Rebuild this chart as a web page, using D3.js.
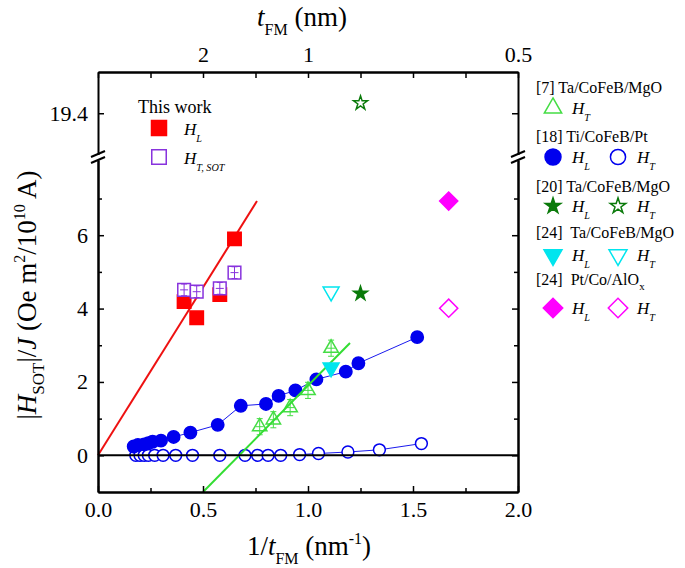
<!DOCTYPE html>
<html>
<script src="https://d3js.org/d3.v7.min.js"></script>

<head>
    <style>
        body {
            margin: 0;
            background-color: #ffffff;
        }

        svg {
            display: block;
        }

        svg text {
            font-family: "Liberation Serif", "DejaVu Serif", "Times New Roman", serif;
        }
    </style>
</head>

<body>
</body>
<script>
    const width = 685,
        height = 568;
    const FONT = "'Liberation Serif', 'DejaVu Serif', 'Times New Roman', serif";

    // axis ticks
    const xMajor = [0, 0.5, 1.0, 1.5, 2.0];
    const xMinor = [0.25, 0.75, 1.25, 1.75];
    const topValues = [0.5, 1.0, 2.0];
    const topLabels = ["2", "1", "0.5"];
    const topMinor = [0, 0.25, 0.75, 1.25, 1.5, 1.75];
    const yMajor = [0, 2, 4, 6];
    const yMinor = [1, 3, 5, 7];
    const yUpper = [19.4];

    // this work
    const workX = [0.41, 0.47, 0.58, 0.65];
    const workHL = [4.19, 3.75, 4.38, 5.9];
    const workHT = [4.51, 4.46, 4.55, 4.98];
    const workFitX = [0, 0.757];
    const workFitY = [0, 6.93];

    // [7] Ta/CoFeB/MgO
    const ta7X = [0.77, 0.835, 0.915, 1.0, 1.11];
    const ta7HT = [0.78, 0.97, 1.3, 1.77, 2.92];
    const ta7FitX = [0.5, 1.2];
    const ta7FitY = [-1.0, 3.06];

    // [18] Ti/CoFeB/Pt
    const tiHLX = [0.17, 0.19, 0.22, 0.24, 0.26, 0.30, 0.36, 0.44, 0.57, 0.68, 0.80, 0.86, 0.94, 1.04, 1.18, 1.24, 1.52];
    const tiHL = [0.24, 0.28, 0.30, 0.33, 0.37, 0.40, 0.50, 0.62, 0.83, 1.35, 1.40, 1.62, 1.77, 2.07, 2.28, 2.51, 3.22];
    const tiHTX = [0.18, 0.20, 0.22, 0.24, 0.27, 0.31, 0.37, 0.45, 0.58, 0.70, 0.76, 0.81, 0.87, 0.96, 1.05, 1.19, 1.34, 1.54];
    const tiHT = [0, 0, 0, 0, 0, 0, 0, 0, 0, 0, 0, 0, 0, 0.02, 0.05, 0.09, 0.15, 0.32];

    // [20] Ta/CoFeB/MgO
    const ta20X = [1.25];
    const ta20HL = [4.41];
    const ta20HT = [19.67];

    // [24] Ta/CoFeB/MgO
    const ta24X = [1.11];
    const ta24HL = [2.39];
    const ta24HT = [4.46];

    // [24] Pt/Co/AlOx
    const ptX = [1.67];
    const ptHL = [6.93];
    const ptHT = [4.01];

    const svg = d3.select("body").append("svg").attr("width", width).attr("height", height)
        .attr("font-family", FONT);

    const x = d3.scaleLinear().domain([0, 2]).range([98, 518]);
    const yLow = d3.scaleLinear().domain([-1, 8.05]).range([492, 160]);
    const yHigh = d3.scaleLinear().domain([18.3, 20.5]).range([154.5, 72]);
    // pick the segment of the broken axis
    const y = v => v > 10 ? yHigh(v) : yLow(v);

    function styleAxis(g) {
        g.attr("font-family", FONT).attr("font-size", 22);
        g.selectAll(".domain").attr("stroke-width", 2);
        g.selectAll(".tick line").attr("stroke-width", 1.5);
        g.selectAll(".tick text").attr("fill", "#000").attr("font-family", FONT);
    }

    function drawAxes() {
        // zero line
        svg.append("line")
            .attr("x1", x(0)).attr("x2", x(2))
            .attr("y1", yLow(0)).attr("y2", yLow(0))
            .attr("stroke", "#000").attr("stroke-width", 2);

        svg.append("g").attr("transform", "translate(0,492)")
            .call(d3.axisBottom(x).tickValues(xMajor).tickSize(-6).tickSizeOuter(0).tickPadding(9).tickFormat(d3.format(".1f")))
            .call(styleAxis);
        svg.append("g").attr("transform", "translate(0,492)")
            .call(d3.axisBottom(x).tickValues(xMinor).tickSize(-4).tickSizeOuter(0).tickFormat(""))
            .call(styleAxis);

        svg.append("g").attr("transform", "translate(0,72)")
            .call(d3.axisTop(x).tickValues(topValues).tickSize(-6).tickSizeOuter(0).tickPadding(10).tickFormat((d, i) => topLabels[i]))
            .call(styleAxis);
        svg.append("g").attr("transform", "translate(0,72)")
            .call(d3.axisTop(x).tickValues(topMinor).tickSize(-6).tickSizeOuter(0).tickFormat(""))
            .call(styleAxis);

        [[d3.axisLeft, 98, true], [d3.axisRight, 518, false]].forEach(([axis, px, labels]) => {
            svg.append("g").attr("transform", `translate(${px},0)`)
                .call(axis(yLow).tickValues(yMajor).tickSize(-6).tickSizeOuter(0).tickPadding(10).tickFormat(labels ? d3.format("d") : ""))
                .call(styleAxis);
            svg.append("g").attr("transform", `translate(${px},0)`)
                .call(axis(yLow).tickValues(yMinor).tickSize(-4).tickSizeOuter(0).tickFormat(""))
                .call(styleAxis);
            svg.append("g").attr("transform", `translate(${px},0)`)
                .call(axis(yHigh).tickValues(yUpper).tickSize(-6).tickSizeOuter(0).tickPadding(10).tickFormat(labels ? d3.format(".1f") : ""))
                .call(styleAxis);
            // break marks
            [154, 160].forEach(b => {
                svg.append("line")
                    .attr("x1", px - 7).attr("y1", b + 3)
                    .attr("x2", px + 7).attr("y2", b - 3)
                    .attr("stroke", "#000").attr("stroke-width", 2);
            });
        });
    }

    function drawPoints(xs, ys, type, size, fill, stroke, rotate) {
        svg.append("g").selectAll("path")
            .data(xs.map((v, i) => [x(v), y(ys[i])]))
            .join("path")
            .attr("d", d3.symbol().type(type).size(size))
            .attr("transform", d => `translate(${d[0]},${d[1]}) rotate(${rotate || 0})`)
            .attr("fill", fill)
            .attr("stroke", stroke)
            .attr("stroke-width", 1.5);
    }

    function drawLine(xs, ys, color, w) {
        svg.append("path")
            .datum(xs.map((v, i) => [x(v), y(ys[i])]))
            .attr("d", d3.line())
            .attr("fill", "none")
            .attr("stroke", color)
            .attr("stroke-width", w);
    }

    function errorBars(xs, ys, half, color, mid) {
        xs.forEach((v, i) => {
            const cx = x(v), y0 = y(ys[i] - half), y1 = y(ys[i] + half);
            const g = svg.append("g").attr("stroke", color).attr("stroke-width", 1);
            g.append("line").attr("x1", cx).attr("x2", cx).attr("y1", y0).attr("y2", y1);
            g.append("line").attr("x1", cx - 3).attr("x2", cx + 3).attr("y1", y0).attr("y2", y0);
            g.append("line").attr("x1", cx - 3).attr("x2", cx + 3).attr("y1", y1).attr("y2", y1);
            if (mid) g.append("line").attr("x1", cx - 4).attr("x2", cx + 4).attr("y1", y(ys[i])).attr("y2", y(ys[i]));
        });
    }

    function drawData() {
        drawLine(tiHLX, tiHL, "#1a1aee", 1);
        drawLine(tiHTX, tiHT, "#1a1aee", 1);
        drawLine(workFitX, workFitY, "#ee1111", 2);

        drawPoints(tiHTX, tiHT, d3.symbolCircle, 110, "#fff", "#0000ee");
        drawPoints(tiHLX, tiHL, d3.symbolCircle, 120, "#0000ee", "#0000ee");

        errorBars(ta7X, ta7HT, 0.22, "#44dd44", true);
        drawPoints(ta7X, ta7HT, d3.symbolTriangle, 90, "none", "#44dd44");
        drawLine(ta7FitX, ta7FitY, "#33dd33", 2);

        drawPoints(workX, workHL, d3.symbolSquare, 180, "#ff0000", "#ff0000");
        drawPoints(workX, workHT, d3.symbolSquare, 160, "#fff", "#8833dd");
        errorBars(workX, workHT, 0.16, "#8833dd", true);

        drawPoints(ta24X, ta24HL, d3.symbolTriangle, 110, "#00e5ee", "#00e5ee", 180);
        drawPoints(ta24X, ta24HT, d3.symbolTriangle, 110, "none", "#00e5ee", 180);
        drawPoints(ta20X, ta20HL, d3.symbolStar, 60, "#0a7a0a", "#0a7a0a");
        drawPoints(ta20X, ta20HT, d3.symbolStar, 60, "none", "#0a7a0a");
        drawPoints(ptX, ptHL, d3.symbolSquare, 165, "#ff00ff", "#ff00ff", 45);
        drawPoints(ptX, ptHT, d3.symbolSquare, 165, "none", "#ff00ff", 45);
    }

    function hLabel(px, py, sub, size) {
        const t = svg.append("text").attr("x", px).attr("y", py).attr("font-family", FONT)
            .attr("font-size", size).attr("font-style", "italic");
        t.append("tspan").text("H");
        t.append("tspan").attr("dy", size * 0.4).attr("font-size", size * 0.6).text(sub);
    }

    function legendSymbol(px, py, type, size, fill, stroke, rotate) {
        svg.append("path")
            .attr("d", d3.symbol().type(type).size(size)())
            .attr("transform", `translate(${px},${py}) rotate(${rotate || 0})`)
            .attr("fill", fill).attr("stroke", stroke).attr("stroke-width", 1.5);
    }

    function drawLegends() {
        svg.append("text").attr("x", 138).attr("y", 113).attr("font-family", FONT)
            .attr("font-size", 18).text("This work");
        legendSymbol(159, 128, d3.symbolSquare, 225, "#ff0000", "#ff0000");
        hLabel(184, 135, "L", 17);
        legendSymbol(159, 157, d3.symbolSquare, 210, "#fff", "#8833dd");
        hLabel(184, 164, "T, SOT", 17);

        const rows = [
            { title: "[7] Ta/CoFeB/MgO", y: 93, sy: 108, items: [[d3.symbolTriangle, 130, "none", "#44dd44", 0, "T"]] },
            { title: "[18] Ti/CoFeB/Pt", y: 142, sy: 157, items: [[d3.symbolCircle, 200, "#0000ee", "#0000ee", 0, "L"], [d3.symbolCircle, 180, "#fff", "#0000ee", 0, "T"]] },
            { title: "[20] Ta/CoFeB/MgO", y: 192, sy: 206, items: [[d3.symbolStar, 75, "#0a7a0a", "#0a7a0a", 0, "L"], [d3.symbolStar, 75, "none", "#0a7a0a", 0, "T"]] },
            { title: "[24]  Ta/CoFeB/MgO", y: 238, sy: 255, items: [[d3.symbolTriangle, 140, "#00e5ee", "#00e5ee", 180, "L"], [d3.symbolTriangle, 140, "none", "#00e5ee", 180, "T"]] },
            { title: "[24]  Pt/Co/AlO", sub: "x", y: 285, sy: 308, items: [[d3.symbolSquare, 190, "#ff00ff", "#ff00ff", 45, "L"], [d3.symbolSquare, 190, "none", "#ff00ff", 45, "T"]] }
        ];
        rows.forEach(r => {
            const t = svg.append("text").attr("x", 536).attr("y", r.y).attr("font-size", 16)
                .attr("font-family", FONT).style("white-space", "pre");
            t.append("tspan").text(r.title);
            if (r.sub) t.append("tspan").attr("dy", 5).attr("font-size", 11).text(r.sub);
            r.items.forEach((it, i) => {
                legendSymbol(553 + i * 65, r.sy, it[0], it[1], it[2], it[3], it[4]);
                hLabel(572 + i * 65, r.sy + 6, it[5], 17);
            });
        });
    }

    function drawTitles() {
        const top = svg.append("text").attr("x", 302).attr("y", 26).attr("font-family", FONT)
            .attr("text-anchor", "middle").attr("font-size", 27);
        top.append("tspan").attr("font-style", "italic").text("t");
        top.append("tspan").attr("dy", 9).attr("font-size", 16).text("FM");
        top.append("tspan").attr("dy", -9).text(" (nm)");

        const bottom = svg.append("text").attr("x", 309).attr("y", 555).attr("font-family", FONT)
            .attr("text-anchor", "middle").attr("font-size", 27);
        bottom.append("tspan").text("1/");
        bottom.append("tspan").attr("font-style", "italic").text("t");
        bottom.append("tspan").attr("dy", 9).attr("font-size", 16).text("FM");
        bottom.append("tspan").attr("dy", -9).text(" (nm");
        bottom.append("tspan").attr("dy", -11).attr("font-size", 16).text("-1");
        bottom.append("tspan").attr("dy", 11).text(")");

        const left = svg.append("text").attr("transform", "translate(36,295) rotate(-90)")
            .attr("font-family", FONT).attr("text-anchor", "middle").attr("font-size", 27);
        left.append("tspan").text("|");
        left.append("tspan").attr("font-style", "italic").text("H");
        left.append("tspan").attr("dy", 8).attr("font-size", 17).text("SOT");
        left.append("tspan").attr("dy", -8).text("|/");
        left.append("tspan").attr("font-style", "italic").text("J");
        left.append("tspan").text(" (Oe m");
        left.append("tspan").attr("dy", -11).attr("font-size", 16).text("2");
        left.append("tspan").attr("dy", 11).text("/10");
        left.append("tspan").attr("dy", -11).attr("font-size", 16).text("10");
        left.append("tspan").attr("dy", 11).text(" A)");
    }

    drawData();
    drawAxes();
    drawLegends();
    drawTitles();
</script>

</html>
